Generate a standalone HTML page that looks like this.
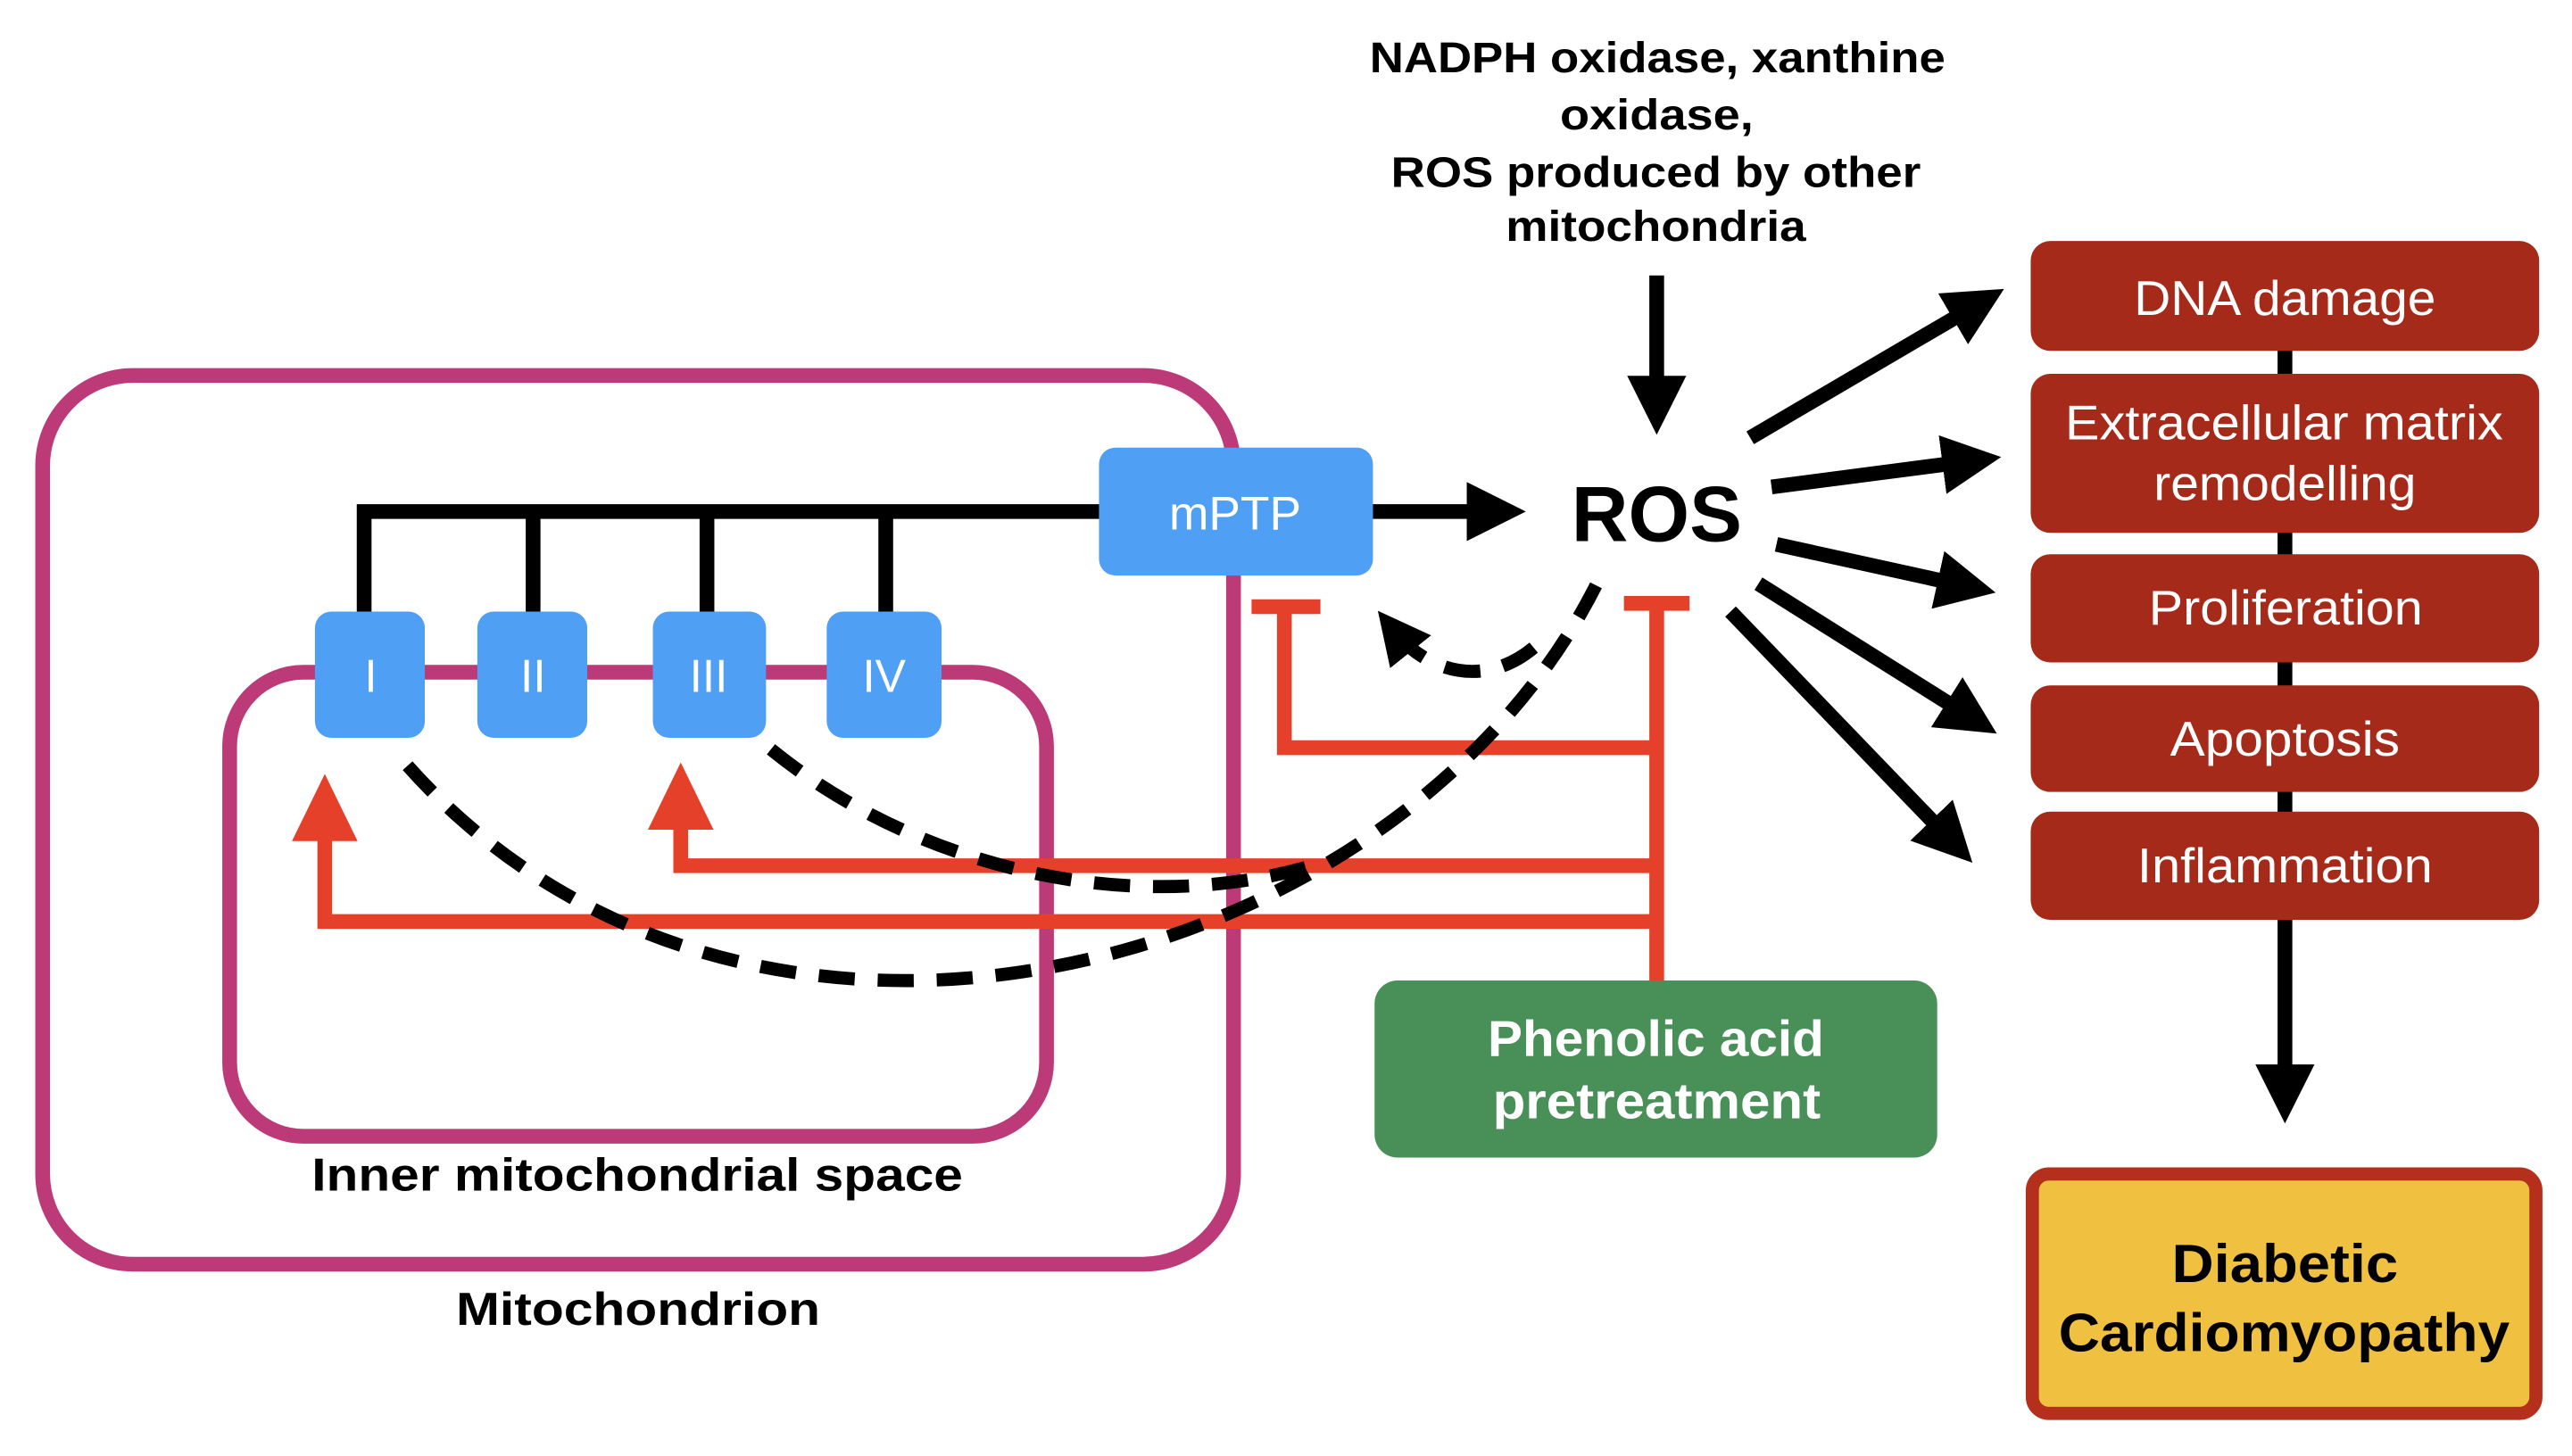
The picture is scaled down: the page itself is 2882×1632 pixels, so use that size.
<!DOCTYPE html>
<html><head><meta charset="utf-8"><style>
html,body{margin:0;padding:0;background:#fff;}
svg{display:block;}
text{font-family:"Liberation Sans",Arial,sans-serif;}
</style></head><body>
<svg width="2882" height="1632" viewBox="0 0 1568 888" preserveAspectRatio="none" xmlns="http://www.w3.org/2000/svg">
<defs>
<marker id="bh" markerWidth="4" markerHeight="4" refX="1.2" refY="2" orient="auto" markerUnits="strokeWidth"><path d="M0,0 L4,2 L0,4 z" fill="#000"/></marker>
<marker id="dh" markerWidth="4" markerHeight="4" refX="2" refY="2" orient="auto" markerUnits="strokeWidth"><path d="M0,0 L4,2 L0,4 z" fill="#000"/></marker>
</defs>
<rect x="26" y="229" width="726" height="542" rx="55" fill="none" stroke="#bc3a78" stroke-width="9"/>
<rect x="140" y="410" width="498" height="283" rx="45" fill="none" stroke="#bc3a78" stroke-width="9"/>
<g stroke="#000" stroke-width="9" fill="none">
<path d="M222,378 V312 H672"/>
<path d="M325,312 V378 M431,312 V378 M540,312 V378"/>
</g>
<g fill="#4f9ff5">
<rect x="192" y="373" width="67" height="77" rx="10"/>
<rect x="291" y="373" width="67" height="77" rx="10"/>
<rect x="398" y="373" width="69" height="77" rx="10"/>
<rect x="504" y="373" width="70" height="77" rx="10"/>
<rect x="670" y="273" width="167" height="78" rx="10"/>
</g>
<g fill="#fff" font-size="28" text-anchor="middle">
<text x="226" y="422">I</text><text x="325" y="422">II</text><text x="432" y="422">III</text><text x="539" y="422">IV</text>
<text x="753" y="323" font-size="29">mPTP</text>
</g>
<g stroke="#e5402a" stroke-width="9" fill="none">
<path d="M763,370 H805 M783,370 V456 H1010"/>
<path d="M990,368 H1030 M1010,368 V600"/>
<path d="M1010,528 H415 V500"/>
<path d="M1010,562 H198 V508"/>
</g>
<g fill="#e5402a">
<path d="M415,465 L395,506 L435,506 z"/>
<path d="M198,472 L178,513 L218,513 z"/>
</g>
<g stroke="#000" stroke-width="8" fill="none" stroke-dasharray="22 14">
<path d="M973,357 C850,600 450,700 245,463"/>
<path d="M470,457 C560,530 690,560 800,528"/>
<path d="M935,395 C905,420 870,410 850,385" marker-end="url(#dh)"/>
</g>
<g stroke="#000" stroke-width="9" fill="none" marker-end="url(#bh)">
<path d="M837,312 H905"/>
<path d="M1010,168 V240"/>
<path d="M1067,267 L1200,189"/>
<path d="M1080,297 L1195,282"/>
<path d="M1083,332 L1192,356"/>
<path d="M1072,356 L1196,434"/>
<path d="M1055,373 L1185,508"/>
<path d="M1393,561 V660"/>
</g>
<text x="958" y="330" font-size="48" font-weight="bold">ROS</text>
<g font-size="26" font-weight="bold" fill="#000">
<text x="835" y="44" textLength="351" lengthAdjust="spacingAndGlyphs">NADPH oxidase, xanthine</text>
<text x="951" y="79" textLength="118" lengthAdjust="spacingAndGlyphs">oxidase,</text>
<text x="848" y="114" textLength="323" lengthAdjust="spacingAndGlyphs">ROS produced by other</text>
<text x="918" y="147" textLength="183" lengthAdjust="spacingAndGlyphs">mitochondria</text>
<text x="190" y="726" font-size="28" textLength="397" lengthAdjust="spacingAndGlyphs">Inner mitochondrial space</text>
<text x="278" y="808" font-size="28" textLength="222" lengthAdjust="spacingAndGlyphs">Mitochondrion</text>
</g>
<path d="M1393,210 V500" stroke="#000" stroke-width="9"/>
<g fill="#a52a1a">
<rect x="1238" y="147" width="310" height="67" rx="12"/>
<rect x="1238" y="228" width="310" height="97" rx="12"/>
<rect x="1238" y="338" width="310" height="66" rx="12"/>
<rect x="1238" y="418" width="310" height="65" rx="12"/>
<rect x="1238" y="495" width="310" height="66" rx="12"/>
</g>
<g fill="#fff" font-size="30">
<text x="1301" y="192" textLength="184" lengthAdjust="spacingAndGlyphs">DNA damage</text>
<text x="1259" y="268" textLength="267" lengthAdjust="spacingAndGlyphs">Extracellular matrix</text>
<text x="1313" y="305" textLength="160" lengthAdjust="spacingAndGlyphs">remodelling</text>
<text x="1310" y="381" textLength="167" lengthAdjust="spacingAndGlyphs">Proliferation</text>
<text x="1323" y="461" textLength="140" lengthAdjust="spacingAndGlyphs">Apoptosis</text>
<text x="1303" y="538" textLength="180" lengthAdjust="spacingAndGlyphs">Inflammation</text>
</g>
<rect x="838" y="598" width="343" height="108" rx="14" fill="#489058"/>
<g fill="#fff" font-size="31" font-weight="bold">
<text x="907" y="644" textLength="205" lengthAdjust="spacingAndGlyphs">Phenolic acid</text>
<text x="910" y="682" textLength="200" lengthAdjust="spacingAndGlyphs">pretreatment</text>
</g>
<rect x="1239" y="716" width="307" height="146" rx="10" fill="#f0c040" stroke="#b5301c" stroke-width="8"/>
<g font-size="33" font-weight="bold">
<text x="1324" y="782" textLength="138" lengthAdjust="spacingAndGlyphs">Diabetic</text>
<text x="1255" y="824" textLength="275" lengthAdjust="spacingAndGlyphs">Cardiomyopathy</text>
</g>
</svg>
</body></html>
